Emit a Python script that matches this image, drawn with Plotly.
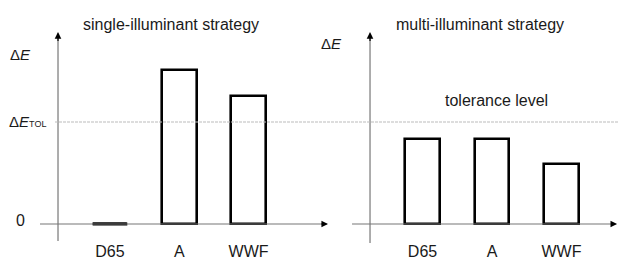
import plotly.graph_objects as go

categories = ["D65", "A", "WWF"]
single_values = [0.0, 1.51, 1.255]
multi_values = [0.833, 0.833, 0.588]
tolerance = 1.0
left_title = "single-illuminant strategy"
right_title = "multi-illuminant strategy"
tol_label = "tolerance level"

FONT = "Liberation Sans, Arial, sans-serif"
W, H = 618, 258
idx = list(range(len(categories)))

fig = go.Figure()
bar_style = dict(marker=dict(color="white", line=dict(color="black", width=2.6)),
                 width=0.5, showlegend=False, hoverinfo="skip")
fig.add_trace(go.Bar(x=idx, y=single_values, xaxis="x", yaxis="y", **bar_style))
fig.add_trace(go.Bar(x=idx, y=multi_values, xaxis="x2", yaxis="y", **bar_style))

shapes = []
# zero-height bars drawn as a thick baseline segment
for xr, vals in (("x", single_values), ("x2", multi_values)):
    for i, v in zip(idx, vals):
        if v == 0:
            shapes.append(dict(type="line", xref=xr, yref="y", x0=i - 0.25, x1=i + 0.25,
                               y0=0, y1=0, line=dict(color="black", width=3)))

axis_col = "#777777"
shapes += [
    dict(type="line", xref="x", yref="paper", x0=-0.75, x1=-0.75, y0=-0.004, y1=0.85,
         line=dict(color=axis_col, width=1.2)),
    dict(type="line", xref="x", yref="y", x0=-1.01, x1=3.1, y0=0, y1=0,
         line=dict(color=axis_col, width=1.2)),
    dict(type="line", xref="x2", yref="paper", x0=-0.755, x1=-0.755, y0=-0.0125, y1=0.85,
         line=dict(color=axis_col, width=1.2)),
    dict(type="line", xref="x2", yref="y", x0=-1.014, x1=2.77, y0=0, y1=0,
         line=dict(color=axis_col, width=1.2)),
    dict(type="line", xref="paper", yref="y", x0=55 / W, x1=1, y0=tolerance, y1=tolerance,
         line=dict(color="#bbbbbb", width=1.2, dash="3px,1px")),
]

ann = []
def arrow(xr, x, y, ax, ay):
    ann.append(dict(xref=xr, yref="y", axref=xr, ayref="y", x=x, y=y, ax=ax, ay=ay,
                    showarrow=True, arrowhead=2, arrowsize=1.1, arrowwidth=1.2,
                    arrowcolor="black", text=""))

arrow("x", -0.75, 1.882, -0.75, 1.78)
arrow("x", 3.146, 0, 3.03, 0)
arrow("x2", -0.755, 1.882, -0.755, 1.78)
arrow("x2", 2.8, 0, 2.69, 0)

def label(x, y, text, size=16, xanchor="center"):
    ann.append(dict(xref="paper", yref="y", x=x / W, y=y, text=text, xanchor=xanchor,
                    yanchor="middle", showarrow=False,
                    font=dict(family=FONT, size=size, color="#1a1a1a")))

label(171, 1.951, left_title)
label(480, 1.96, right_title)
label(496, 1.206, tol_label)
label(20.5, 0.03, "0")
label(20, 1.657, "Δ<i>E</i>", size=15)
label(331, 1.765, "Δ<i>E</i>", size=15)
label(7, tolerance, "Δ<i>E</i><span style='font-size:9px'>TOL</span>", size=15,
      xanchor="left")

xcommon = dict(tickmode="array", tickvals=idx, ticktext=categories, showgrid=False,
               zeroline=False, showline=False, ticks="", automargin=False,
               tickfont=dict(family=FONT, size=16, color="#1a1a1a"), fixedrange=True)
fig.update_layout(
    template="none",
    width=W, height=H, margin=dict(l=0, r=0, t=0, b=18, autoexpand=False),
    paper_bgcolor="white", plot_bgcolor="white", bargap=0,
    xaxis=dict(domain=[0, 340 / W], range=[-1.587, 3.319], anchor="y", **xcommon),
    xaxis2=dict(domain=[340 / W, 1], range=[-1.187, 2.813], anchor="y", **xcommon),
    yaxis=dict(range=[-0.157, 2.196], visible=False, fixedrange=True, automargin=False),
    shapes=shapes, annotations=ann,
)
fig.write_html("out.html", post_script="document.body.style.margin='0';",
               config={"displayModeBar": False})
